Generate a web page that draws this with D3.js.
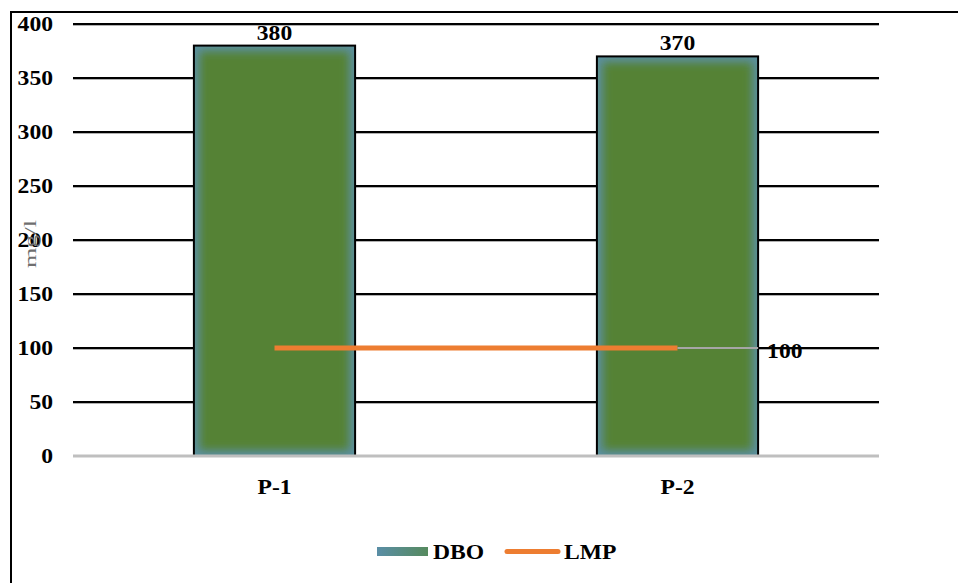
<!DOCTYPE html>
<html>
<head>
<meta charset="utf-8">
<script src="https://cdn.jsdelivr.net/npm/d3@7"></script>
<style>
  body { margin: 0; background: #fff; }
  svg { display: block; }
  text { font-family: "Liberation Serif", "Times New Roman", serif; font-weight: bold; }
</style>
</head>
<body>
<svg id="chart" width="958" height="583"></svg>
<script>
// Sampling points and measured DBO (mg/l)
const categories = ["P-1", "P-2"];
const dboValues = [380, 370];
// Permissible limit (LMP) at each point
const lmpValues = [100, 100];
const yTicks = [0, 50, 100, 150, 200, 250, 300, 350, 400];

const svg = d3.select("#chart");
const W = 958, H = 583;
const plot = { left: 73, right: 879, top: 24, bottom: 456 };
const FS = 20;
const SX = 1.18; // wide lettering

// bold label helper, widened horizontally
function label(parent, x, y, txt, anchor) {
  return parent.append("text")
    .attr("transform", `translate(${x},${y}) scale(${SX},1)`)
    .attr("text-anchor", anchor || "start")
    .attr("font-size", FS).attr("fill", "#000").text(txt);
}

// outer frame (top and left edges)
svg.append("path")
  .attr("d", `M11,583 L11,12 L${W},12`)
  .attr("fill", "none").attr("stroke", "#000").attr("stroke-width", 2);

const x = d3.scaleBand().domain(categories)
  .range([plot.left, plot.right]).paddingInner(0.6).paddingOuter(0.3);
const y = d3.scaleLinear().domain([0, 400]).range([plot.bottom, plot.top]);

const defs = svg.append("defs");
const blur = defs.append("filter").attr("id", "soft")
  .attr("x", "-20%").attr("y", "-20%").attr("width", "140%").attr("height", "140%");
blur.append("feGaussianBlur").attr("stdDeviation", 4);

const lg = defs.append("linearGradient").attr("id", "legendGrad");
lg.append("stop").attr("offset", "0%").attr("stop-color", "#5a8ea6");
lg.append("stop").attr("offset", "100%").attr("stop-color", "#568a5e");

// gridlines
const grid = svg.append("g");
grid.selectAll("line.shadow").data(yTicks.filter(d => d > 0)).join("line")
  .attr("x1", plot.left).attr("x2", plot.right)
  .attr("y1", d => y(d) + 1.5).attr("y2", d => y(d) + 1.5)
  .attr("stroke", "#b0b0b0").attr("stroke-width", 1);
grid.selectAll("line.main").data(yTicks.filter(d => d > 0)).join("line")
  .attr("x1", plot.left).attr("x2", plot.right)
  .attr("y1", d => y(d)).attr("y2", d => y(d))
  .attr("stroke", "#000").attr("stroke-width", 2);

// y tick labels
const yAxis = d3.axisLeft(y).tickValues(yTicks).tickSize(0).tickPadding(0);
const ya = svg.append("g").attr("transform", `translate(53,0)`).call(yAxis);
ya.select(".domain").remove();
ya.selectAll("text").attr("font-size", FS).attr("fill", "#000")
  .attr("font-family", "Liberation Serif, serif").attr("font-weight", "bold")
  .attr("transform", `scale(${SX},1)`);

// bars with a soft blue-grey rim around a green body
const bars = svg.append("g");
categories.forEach((c, i) => {
  const bx = x(c), bw = x.bandwidth(), by = y(dboValues[i]), bh = y(0) - y(dboValues[i]);
  const clipId = "clip" + i;
  defs.append("clipPath").attr("id", clipId)
    .append("rect").attr("x", bx).attr("y", by).attr("width", bw).attr("height", bh);
  const g = bars.append("g").attr("clip-path", `url(#${clipId})`);
  g.append("rect").attr("x", bx).attr("y", by).attr("width", bw).attr("height", bh)
    .attr("fill", "#5b8f9e");
  g.append("rect").attr("x", bx + 6).attr("y", by + 6).attr("width", bw - 12).attr("height", bh - 12)
    .attr("fill", "#548235").attr("filter", "url(#soft)");
  bars.append("rect").attr("x", bx).attr("y", by).attr("width", bw).attr("height", bh)
    .attr("fill", "none").attr("stroke", "#000").attr("stroke-width", 2);
  // value label
  label(svg, bx + bw / 2, by - 6, dboValues[i], "middle");
});

// zero baseline
svg.append("line").attr("x1", plot.left).attr("x2", plot.right)
  .attr("y1", y(0)).attr("y2", y(0)).attr("stroke", "#bfbfbf").attr("stroke-width", 3);

// x labels
const xAxis = d3.axisBottom(x).tickSize(0).tickPadding(0);
const xa = svg.append("g").attr("transform", `translate(0,${y(0) + 24})`).call(xAxis);
xa.select(".domain").remove();
xa.selectAll("text").attr("font-size", FS).attr("fill", "#000")
  .attr("font-family", "Liberation Serif, serif").attr("font-weight", "bold")
  .attr("transform", `scale(${SX},1)`);

// LMP line
const cx = c => x(c) + x.bandwidth() / 2;
const line = d3.line().x((d, i) => cx(categories[i])).y(d => y(d));
svg.append("path").datum(lmpValues).attr("d", line)
  .attr("fill", "none").attr("stroke", "#ed7d31").attr("stroke-width", 5);

// leader line to LMP value label
const last = lmpValues.length - 1;
const lx = cx(categories[last]);
svg.append("line").attr("x1", lx).attr("x2", x(categories[last]) + x.bandwidth())
  .attr("y1", y(lmpValues[last])).attr("y2", y(lmpValues[last]))
  .attr("stroke", "#a6a6a6").attr("stroke-width", 2);
label(svg, x(categories[last]) + x.bandwidth() + 9, y(lmpValues[last]) + 10, lmpValues[last]);

// y axis title
svg.append("text").attr("transform", `translate(36,244) rotate(-90)`)
  .attr("text-anchor", "middle").attr("font-size", 16)
  .style("font-weight", "normal")
  .attr("textLength", 48).attr("lengthAdjust", "spacingAndGlyphs")
  .attr("fill", "#6f6f6f").text("mg/l");

// legend
const leg = svg.append("g");
leg.append("rect").attr("x", 377).attr("y", 547).attr("width", 51).attr("height", 9)
  .attr("fill", "url(#legendGrad)");
label(leg, 433, 559, "DBO");
leg.append("line").attr("x1", 507).attr("x2", 558).attr("y1", 551.5).attr("y2", 551.5)
  .attr("stroke", "#ed7d31").attr("stroke-width", 5).attr("stroke-linecap", "round");
label(leg, 564, 559, "LMP");
</script>
</body>
</html>
